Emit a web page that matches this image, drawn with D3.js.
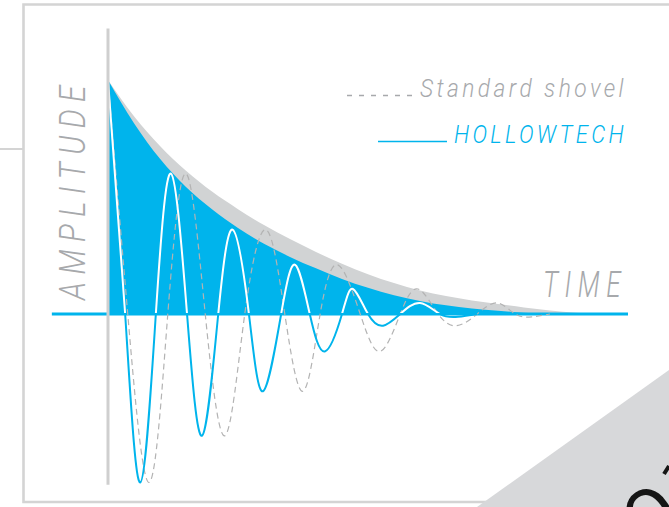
<!DOCTYPE html>
<html>
<head>
<meta charset="utf-8">
<script src="https://cdn.jsdelivr.net/npm/d3@7"></script>
<style>
  html, body { margin: 0; padding: 0; background: #fff; }
  svg { display: block; }
  text { font-family: Roboto, "Open Sans", sans-serif; font-style: italic; font-weight: 300; }
</style>
</head>
<body>
<svg id="chart" width="669" height="507"></svg>
<script>
// ---------- DATA ----------
const axisLabels = ["AMPLITUDE", "TIME"];
const seriesNames = ["Standard shovel", "HOLLOWTECH"];

// envelope samples (time units, relative amplitude)
const envTime   = [0, 5, 10, 15, 20, 25, 30, 35, 40, 45, 50, 55, 60, 65, 70, 75, 80, 85, 90, 95];
const stdEnv    = [1.0, 0.845, 0.718, 0.612, 0.523, 0.448, 0.38, 0.32, 0.265, 0.215, 0.17, 0.132, 0.1, 0.077, 0.058, 0.043, 0.028, 0.015, 0.005, 0];
const hollowEnv = [1.0, 0.815, 0.663, 0.543, 0.448, 0.368, 0.3, 0.244, 0.195, 0.15, 0.112, 0.08, 0.056, 0.037, 0.024, 0.014, 0.005, 0, 0, 0];

// oscillation: extrema and zero crossings
const hollowTime = [0, 3.3, 6.2, 9.2, 12.1, 15.2, 18.1, 21.2, 24.0, 27.1, 29.8, 33.3, 36.0, 38.8, 41.7, 45.0, 47.1, 50.0, 52.9, 56.2, 60.0, 63.8, 67.3, 71];
const hollowAmp  = [1.0, 0, -0.72, 0, 0.60, 0, -0.52, 0, 0.36, 0, -0.33, 0, 0.21, 0, -0.16, 0, 0.107, 0, -0.05, 0, 0.047, 0, -0.012, 0];
const stdTime    = [0, 3.8, 7.9, 11.5, 15.0, 18.7, 22.5, 26.3, 30.4, 34.0, 37.5, 40.8, 44.2, 48.5, 52.3, 56.2, 59.6, 63.5, 67.1, 71.0, 74.8, 78.3, 81.5, 85];
const stdAmp     = [1.0, 0, -0.72, 0, 0.60, 0, -0.52, 0, 0.36, 0, -0.33, 0, 0.21, 0, -0.16, 0, 0.107, 0, -0.05, 0, 0.047, 0, -0.012, 0];

// axis extents in data units
const timeAxisExtent = [-10.8, 100];
const ampAxisExtent  = [-0.73, 1.22];

// ---------- DRAW ----------
const svg = d3.select("#chart");
const BLUE = "#00b4ec", GRAYFILL = "#d1d3d4", TEXTGRAY = "#a7a9ac", LINEGRAY = "#d4d4d4";

const x = d3.scaleLinear().domain([0, 100]).range([108, 628]);
const y = d3.scaleLinear().domain([0, 1]).range([314, 80]);

// frame decoration
svg.append("line").attr("x1", 0).attr("x2", 23).attr("y1", 149).attr("y2", 149)
  .attr("stroke", LINEGRAY).attr("stroke-width", 2);
svg.append("path").attr("d", "M700,4.5 H23.5 V502 H700")
  .attr("fill", "none").attr("stroke", LINEGRAY).attr("stroke-width", 2.6);

const env = (t, v) => t.map((d, i) => ({ t: d, v: v[i] }));
const area = d3.area().x(d => x(d.t)).y0(y(0)).y1(d => y(d.v)).curve(d3.curveMonotoneX);

svg.append("path").datum(env(envTime, stdEnv)).attr("d", area).attr("fill", GRAYFILL);
svg.append("path").datum(env(envTime, hollowEnv)).attr("d", area).attr("fill", BLUE);

// baseline (time axis)
svg.append("line")
  .attr("x1", x(timeAxisExtent[0])).attr("x2", x(timeAxisExtent[1]))
  .attr("y1", y(0)).attr("y2", y(0))
  .attr("stroke", BLUE).attr("stroke-width", 3);

// clips
const defs = svg.append("defs");
defs.append("clipPath").attr("id", "above").append("rect")
  .attr("x", 0).attr("y", 0).attr("width", 669).attr("height", y(0) - 1);
defs.append("clipPath").attr("id", "below").append("rect")
  .attr("x", 0).attr("y", y(0) - 1).attr("width", 669).attr("height", 507);

const line = d3.line().x(d => x(d.t)).y(d => y(d.v)).curve(d3.curveNatural);

// standard shovel dashed
svg.append("path").datum(env(stdTime, stdAmp)).attr("d", line)
  .attr("fill", "none").attr("stroke", "#b3b3b3").attr("stroke-width", 1.2)
  .attr("stroke-dasharray", "6,4");

// hollowtech: white above, blue below
const hData = env(hollowTime, hollowAmp);
svg.append("path").datum(hData).attr("d", line).attr("clip-path", "url(#above)")
  .attr("fill", "none").attr("stroke", "#fff").attr("stroke-width", 2);
svg.append("path").datum(hData).attr("d", line).attr("clip-path", "url(#below)")
  .attr("fill", "none").attr("stroke", BLUE).attr("stroke-width", 2);

// amplitude axis
svg.append("line")
  .attr("x1", x(0)).attr("x2", x(0))
  .attr("y1", y(ampAxisExtent[1])).attr("y2", y(ampAxisExtent[0]))
  .attr("stroke", "#cfcfcf").attr("stroke-width", 3);

// axis labels
svg.append("text").text(axisLabels[0])
  .attr("transform", "translate(85,300) rotate(-90)")
  .attr("font-size", 37).attr("letter-spacing", "0.25em")
  .attr("textLength", 222).attr("lengthAdjust", "spacingAndGlyphs")
  .attr("fill", TEXTGRAY);
svg.append("text").text(axisLabels[1])
  .attr("x", 543).attr("y", 297)
  .attr("font-size", 36).attr("letter-spacing", "0.25em")
  .attr("textLength", 84).attr("lengthAdjust", "spacingAndGlyphs")
  .attr("fill", TEXTGRAY);

// legend
svg.append("line").attr("x1", 347).attr("x2", 418).attr("y1", 95.5).attr("y2", 95.5)
  .attr("stroke", TEXTGRAY).attr("stroke-width", 1.5).attr("stroke-dasharray", "5,7");
svg.append("text").text(seriesNames[0])
  .attr("x", 420).attr("y", 97).attr("font-size", 25).attr("letter-spacing", "0.15em")
  .attr("textLength", 207).attr("lengthAdjust", "spacingAndGlyphs").attr("fill", TEXTGRAY);
svg.append("line").attr("x1", 378).attr("x2", 447).attr("y1", 141.5).attr("y2", 141.5)
  .attr("stroke", BLUE).attr("stroke-width", 1.5);
svg.append("text").text(seriesNames[1])
  .attr("x", 454).attr("y", 143).attr("font-size", 25).attr("letter-spacing", "0.15em")
  .attr("textLength", 173).attr("lengthAdjust", "spacingAndGlyphs").attr("fill", BLUE);

// corner decoration
svg.append("path").attr("d", "M477,507 L669,370 L669,507 Z").attr("fill", "#d7d8da");
svg.append("text").text("O")
  .attr("transform", "translate(650,514) rotate(-35)")
  .attr("text-anchor", "middle").attr("dy", "0.36em")
  .attr("font-size", 72).style("font-style", "normal").style("font-weight", 400)
  .attr("fill", "#151515");
svg.append("path").attr("d", "M664,474 L669,466")
  .attr("stroke", "#151515").attr("stroke-width", 4);
</script>
</body>
</html>
